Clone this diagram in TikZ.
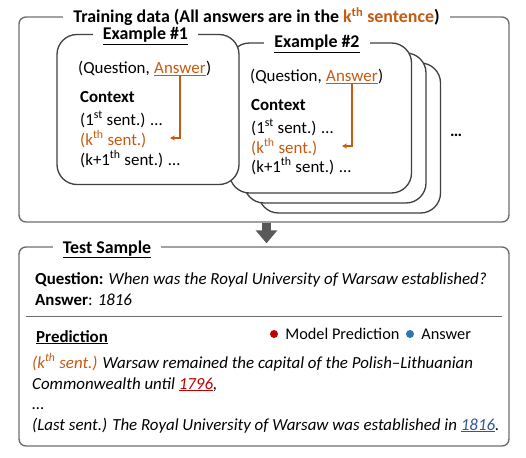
\documentclass[tikz,border=0pt]{standalone}
\usepackage{fontspec}
\setmainfont{Carlito}
\usetikzlibrary{arrows.meta,positioning}
\definecolor{KOrange}{RGB}{197,90,17}
\definecolor{PredRed}{RGB}{192,0,0}
\definecolor{AnsBlue}{RGB}{47,85,151}
\definecolor{DotBlue}{RGB}{46,117,182}
\definecolor{FrameGray}{RGB}{110,110,110}
\definecolor{BoxGray}{RGB}{64,64,64}
\tikzset{
  panel/.style={draw=FrameGray,line width=1.4pt,rounded corners=7pt,
    minimum width=490pt},
  exbox/.style={draw=BoxGray,line width=1.3pt,rounded corners=20pt,fill=white,
    minimum width=182pt,minimum height=150pt},
  headline/.style={fill=white,font=\fontsize{17.9}{21}\selectfont\bfseries,
    inner xsep=10pt,inner ysep=1pt,anchor=base},
  txt/.style={font=\fontsize{16.9}{20}\selectfont,inner sep=0pt,anchor=base west},
  boldtxt/.style={txt,font=\fontsize{16.9}{20}\selectfont\bfseries},
  legendtxt/.style={txt,font=\fontsize{16.3}{19}\selectfont},
  answerarrow/.style={-{Stealth[length=5pt,width=5pt]},KOrange,line width=1.2pt},
  flowarrow/.style={-{Triangle[length=13pt,width=21pt]},line width=9pt,black!65},
  dot/.style={circle,inner sep=0pt,minimum size=8pt}
}

\begin{document}
\begin{tikzpicture}[x=1pt,y=-1pt]
  \useasboundingbox (0,0) rectangle (526,457);
  \node[panel,minimum height=205pt] (train) at (264,119.5) {};
  \node[headline] (traintitle) at (256.5,23)
    {Training data (All answers are in the {\color{KOrange}k\textsuperscript{th} sentence})};

  \node[exbox] (ex2c) at (349.5,138) {};
  \node[exbox] (ex2b) at (335,128) {};
  \node[exbox] (ex2) at (320.5,118) {};
  \node[headline] (ex2title) at (317,48) {\underline{Example \#2}};
  \node[txt] (q2) at (250,82) {(Question,};
  \node[txt,text=KOrange,base right=4pt of q2] (ans2) {\underline{Answer}};
  \node[txt,base right=0pt of ans2] (qe2) {)};
  \node[boldtxt] (ctx2) at (251,111) {Context};
  \node[txt] (s2a) at (251,133) {(1\textsuperscript{st} sent.) \ldots};
  \node[txt,text=KOrange] (s2k) at (251,153) {(k\textsuperscript{th} sent.)};
  \node[txt] (s2b) at (251,172) {(k+1\textsuperscript{th} sent.) \ldots};
  \coordinate (kend2) at (342,146);
  \draw[answerarrow] (ans2.south) |- (kend2);

  \node[exbox] (ex1) at (148,109.5) {};
  \node[headline] (ex1title) at (145.5,40) {\underline{Example \#1}};
  \node[txt] (q1) at (78,74) {(Question,};
  \node[txt,text=KOrange,base right=4pt of q1] (ans1) {\underline{Answer}};
  \node[txt,base right=0pt of ans1] (qe1) {)};
  \node[boldtxt] (ctx1) at (80,103) {Context};
  \node[txt] (s1a) at (80,125) {(1\textsuperscript{st} sent.) \ldots};
  \node[txt,text=KOrange] (s1k) at (80,145) {(k\textsuperscript{th} sent.)};
  \node[txt] (s1b) at (80,165) {(k+1\textsuperscript{th} sent.) \ldots};
  \coordinate (kend1) at (170,138);
  \draw[answerarrow] (ans1.south) |- (kend1);

  \node[boldtxt] (more) at (450,136) {\ldots};

  \node[panel,minimum height=199pt] (test) at (264,346.5) {};
  \node[headline] (testtitle) at (107,253) {\underline{Test Sample}};
  \draw[flowarrow] ([xshift=2.5pt]train.south) -- ([xshift=2.5pt,yshift=3pt]test.north);

  \node[txt] (tq) at (35,284)
    {\textbf{Question:} \textit{When was the Royal University of Warsaw established?}};
  \node[txt] (ta) at (35,305) {\textbf{Answer}: \textit{1816}};
  \draw[FrameGray,line width=0.8pt] (26,316) -- (502,316);
  \node[boldtxt] (pred) at (36,342) {\underline{Prediction}};
  \node[dot,fill=PredRed] (reddot) at (274,334) {};
  \node[legendtxt,right=7pt of reddot,anchor=west] (redlab) {Model Prediction};
  \node[dot,fill=DotBlue] (bluedot) at (410,334) {};
  \node[legendtxt,right=7pt of bluedot,anchor=west] (bluelab) {Answer};
  \node[txt] (l1) at (32,368)
    {\textit{{\color{KOrange}(k\textsuperscript{th} sent.)} Warsaw remained the capital of the Polish–Lithuanian}};
  \node[txt] (l2) at (32,389)
    {\textit{Commonwealth until {\color{PredRed}\underline{1796}},}};
  \node[txt] (l3) at (32,409) {\ldots};
  \node[txt] (l4) at (32,430)
    {\textit{(Last sent.) The Royal University of Warsaw was established in {\color{AnsBlue}\underline{1816}}.}};
\end{tikzpicture}
\end{document}
